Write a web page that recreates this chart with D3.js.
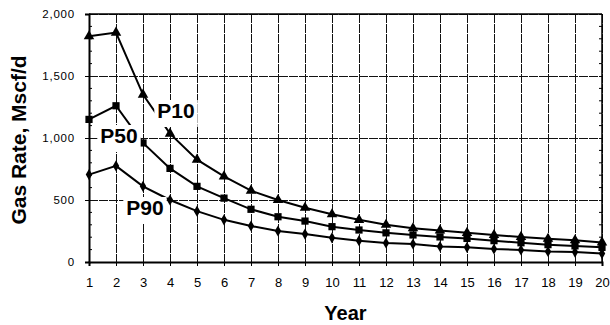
<!DOCTYPE html>
<html>
<head>
<meta charset="utf-8">
<script src="https://cdn.jsdelivr.net/npm/d3@7"></script>
<style>
  body { margin: 0; background: #fff; }
  text { font-family: Arial, "Liberation Sans", sans-serif; fill: #000; }
</style>
</head>
<body>
<div id="chart"></div>
<script>
// data
const years = d3.range(1, 21);
const p10 = [1820, 1850, 1350, 1035, 825, 690, 575, 500, 437, 385, 340, 300, 272, 255, 235, 218, 202, 187, 175, 158];
const p50 = [1150, 1260, 960, 755, 610, 515, 425, 365, 330, 285, 258, 235, 218, 202, 190, 172, 155, 140, 130, 118];
const p90 = [705, 775, 610, 500, 410, 340, 290, 250, 225, 195, 172, 153, 145, 125, 118, 105, 97, 85, 80, 68];
const yTicks = [0, 500, 1000, 1500, 2000];

const series = [
  { name: "P10", values: p10, symbol: d3.symbolTriangle, size: 48, label: [176, 118] },
  { name: "P50", values: p50, symbol: d3.symbolSquare, size: 52, label: [119, 143] },
  { name: "P90", values: p90, symbol: d3.symbolDiamond, size: 36, label: [145, 215] }
];

const width = 610, height = 325;
const margin = { top: 14, right: 8, bottom: 63, left: 89 };

const svg = d3.select("#chart")
  .append("svg")
  .attr("width", width)
  .attr("height", height);

const x = d3.scaleLinear()
  .domain([1, 20])
  .range([margin.left, width - margin.right]);

const y = d3.scaleLinear()
  .domain([0, 2000])
  .range([height - margin.bottom, margin.top]);

// grid
svg.append("g")
  .attr("shape-rendering", "crispEdges")
  .selectAll("line")
  .data(years)
  .enter()
  .append("line")
  .attr("x1", d => x(d)).attr("x2", d => x(d))
  .attr("y1", y(2000)).attr("y2", y(0))
  .attr("stroke", "#111")
  .attr("stroke-width", 1)
  .attr("stroke-dasharray", "9,1");

svg.append("g")
  .attr("shape-rendering", "crispEdges")
  .selectAll("line")
  .data(yTicks)
  .enter()
  .append("line")
  .attr("x1", x(1)).attr("x2", x(20))
  .attr("y1", d => y(d)).attr("y2", d => y(d))
  .attr("stroke", "#111")
  .attr("stroke-width", 1)
  .attr("stroke-dasharray", "9,1");

// minor ticks, inside the frame on both sides
const minor = d3.range(100, 2000, 100).filter(v => v % 500 !== 0);
svg.append("g")
  .selectAll("line")
  .data(minor)
  .enter()
  .append("line")
  .attr("x1", x(1)).attr("x2", x(1) + 3)
  .attr("y1", d => y(d)).attr("y2", d => y(d))
  .attr("stroke", "#000");
svg.append("g")
  .selectAll("line")
  .data(minor)
  .enter()
  .append("line")
  .attr("x1", x(20) - 3).attr("x2", x(20))
  .attr("y1", d => y(d)).attr("y2", d => y(d))
  .attr("stroke", "#000");

// axes
const yAxis = svg.append("g")
  .attr("transform", `translate(${x(1)},0)`)
  .call(d3.axisLeft(y).tickValues(yTicks).tickSize(4).tickPadding(10).tickFormat(d3.format(",")));
yAxis.select(".domain").attr("stroke-width", 2);
yAxis.selectAll("text")
  .style("font-size", "11.5px")
  .style("letter-spacing", "0.8px")
  .style("font-family", "Arial, sans-serif");

const xAxis = svg.append("g")
  .attr("transform", `translate(0,${y(0)})`)
  .call(d3.axisBottom(x).tickValues(years).tickSize(4).tickPadding(12).tickFormat(d3.format("d")));
xAxis.select(".domain").attr("stroke-width", 2);
xAxis.selectAll("text")
  .style("font-size", "13px")
  .style("font-family", "Arial, sans-serif");

// top and right frame
svg.append("line")
  .attr("x1", x(1)).attr("x2", x(20))
  .attr("y1", y(2000)).attr("y2", y(2000))
  .attr("stroke", "#000").attr("stroke-width", 1.5);
svg.append("line")
  .attr("x1", x(20)).attr("x2", x(20))
  .attr("y1", y(2000)).attr("y2", y(0))
  .attr("stroke", "#000").attr("stroke-width", 1.5);

// lines + markers
const line = d3.line()
  .x((d, i) => x(years[i]))
  .y(d => y(d));

series.forEach(s => {
  svg.append("path")
    .datum(s.values)
    .attr("fill", "none")
    .attr("stroke", "#000")
    .attr("stroke-width", 2)
    .attr("d", line);

  svg.append("g")
    .selectAll("path")
    .data(s.values)
    .enter()
    .append("path")
    .attr("transform", (d, i) => `translate(${x(years[i])},${y(d)})`)
    .attr("d", d3.symbol().type(s.symbol).size(s.size))
    .attr("fill", "#000");
});

// series labels with white box that cuts the lines
series.forEach(s => {
  const g = svg.append("g");
  const t = g.append("text")
    .attr("x", s.label[0])
    .attr("y", s.label[1])
    .attr("text-anchor", "middle")
    .style("font-size", "21px")
    .style("font-weight", "bold")
    .text(s.name);
  const b = t.node().getBBox();
  g.insert("rect", "text")
    .attr("x", b.x - 3)
    .attr("y", b.y + 1)
    .attr("width", b.width + 6)
    .attr("height", b.height + 4)
    .attr("fill", "#fff");
});

// axis titles
svg.append("text")
  .attr("transform", `translate(26,${(y(0) + y(2000)) / 2 + 2}) rotate(-90)`)
  .attr("text-anchor", "middle")
  .style("font-size", "21px")
  .style("font-weight", "bold")
  .text("Gas Rate, Mscf/d");

svg.append("text")
  .attr("x", (x(1) + x(20)) / 2)
  .attr("y", 320)
  .attr("text-anchor", "middle")
  .style("font-size", "20px")
  .style("font-weight", "bold")
  .text("Year");
</script>
</body>
</html>
